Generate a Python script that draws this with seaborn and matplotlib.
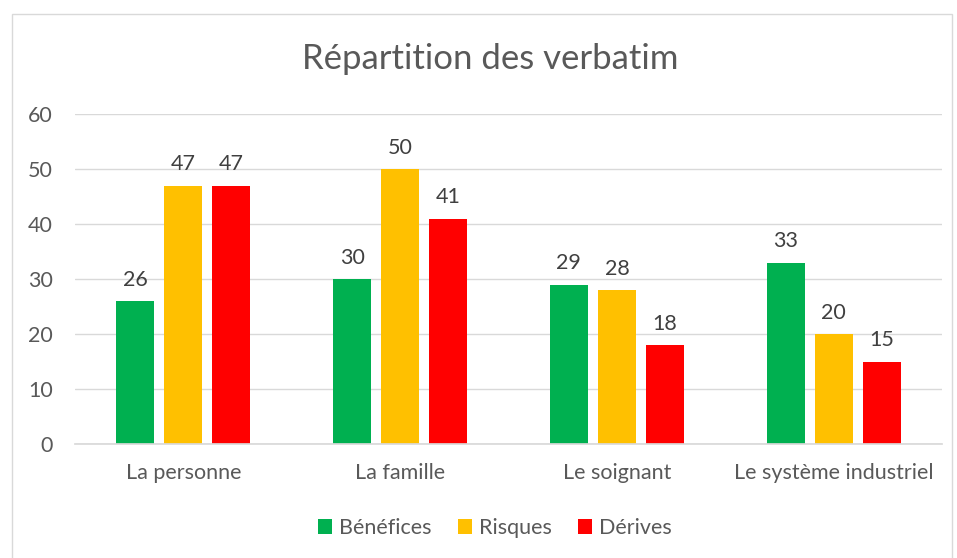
import pandas as pd
import matplotlib.pyplot as plt
import seaborn as sns
from matplotlib.patches import Rectangle

# Données
categories = ['La personne', 'La famille', 'Le soignant', 'Le système industriel']
benefices = [26, 30, 29, 33]
risques = [47, 50, 28, 20]
derives = [47, 41, 18, 15]
series = ['Bénéfices', 'Risques', 'Dérives']
couleurs = ['#00b050', '#ffc000', '#ff0000']

df = pd.DataFrame({
    'Catégorie': categories * 3,
    'Série': [s for s in series for _ in categories],
    'Valeur': benefices + risques + derives,
})

sns.set_theme(style='white')
plt.rcParams['font.family'] = ['Lato', 'DejaVu Sans']
gris = '#595959'

fig = plt.figure(figsize=(9.57, 5.58), dpi=100)
ax = fig.add_axes([75 / 957, 1 - 444 / 558, 867 / 957, 330 / 558])

sns.barplot(data=df, x='Catégorie', y='Valeur', hue='Série', order=categories,
            hue_order=series, palette=couleurs, width=0.664, gap=0.21,
            saturation=1, linewidth=0, ax=ax, legend=True)

for c in ax.containers:
    ax.bar_label(c, padding=8, fontsize=15.5, color='#404040')

ax.set_ylim(0, 60)
ax.set_yticks(range(0, 61, 10))
ax.yaxis.grid(True, color='#d9d9d9', linewidth=1)
ax.set_axisbelow(True)
for s in ['top', 'right', 'left']:
    ax.spines[s].set_visible(False)
ax.spines['bottom'].set_color('#d9d9d9')
ax.tick_params(axis='both', length=0, labelsize=15.5, colors=gris)
ax.tick_params(axis='x', pad=14)
ax.tick_params(axis='y', pad=16)
ax.set_xlabel('')
ax.set_ylabel('')

ax.legend(loc='center', bbox_to_anchor=(495 / 957, (558 - 528) / 558), bbox_transform=fig.transFigure,
          ncol=3, frameon=False, fontsize=15.5, labelcolor=gris, handlelength=0.65,
          handleheight=0.65, handletextpad=0.35, columnspacing=1.2)

fig.text(490 / 957, 1 - 59 / 558, 'Répartition des verbatim', ha='center', va='center',
         fontsize=25, color=gris)

# Cadre du graphique
fig.patches.append(Rectangle((12 / 957, -0.05), 940 / 957, 1.05 - 14 / 558,
                             transform=fig.transFigure, fill=False,
                             edgecolor='#d9d9d9', linewidth=1))

fig.savefig('out.png', dpi=100)
